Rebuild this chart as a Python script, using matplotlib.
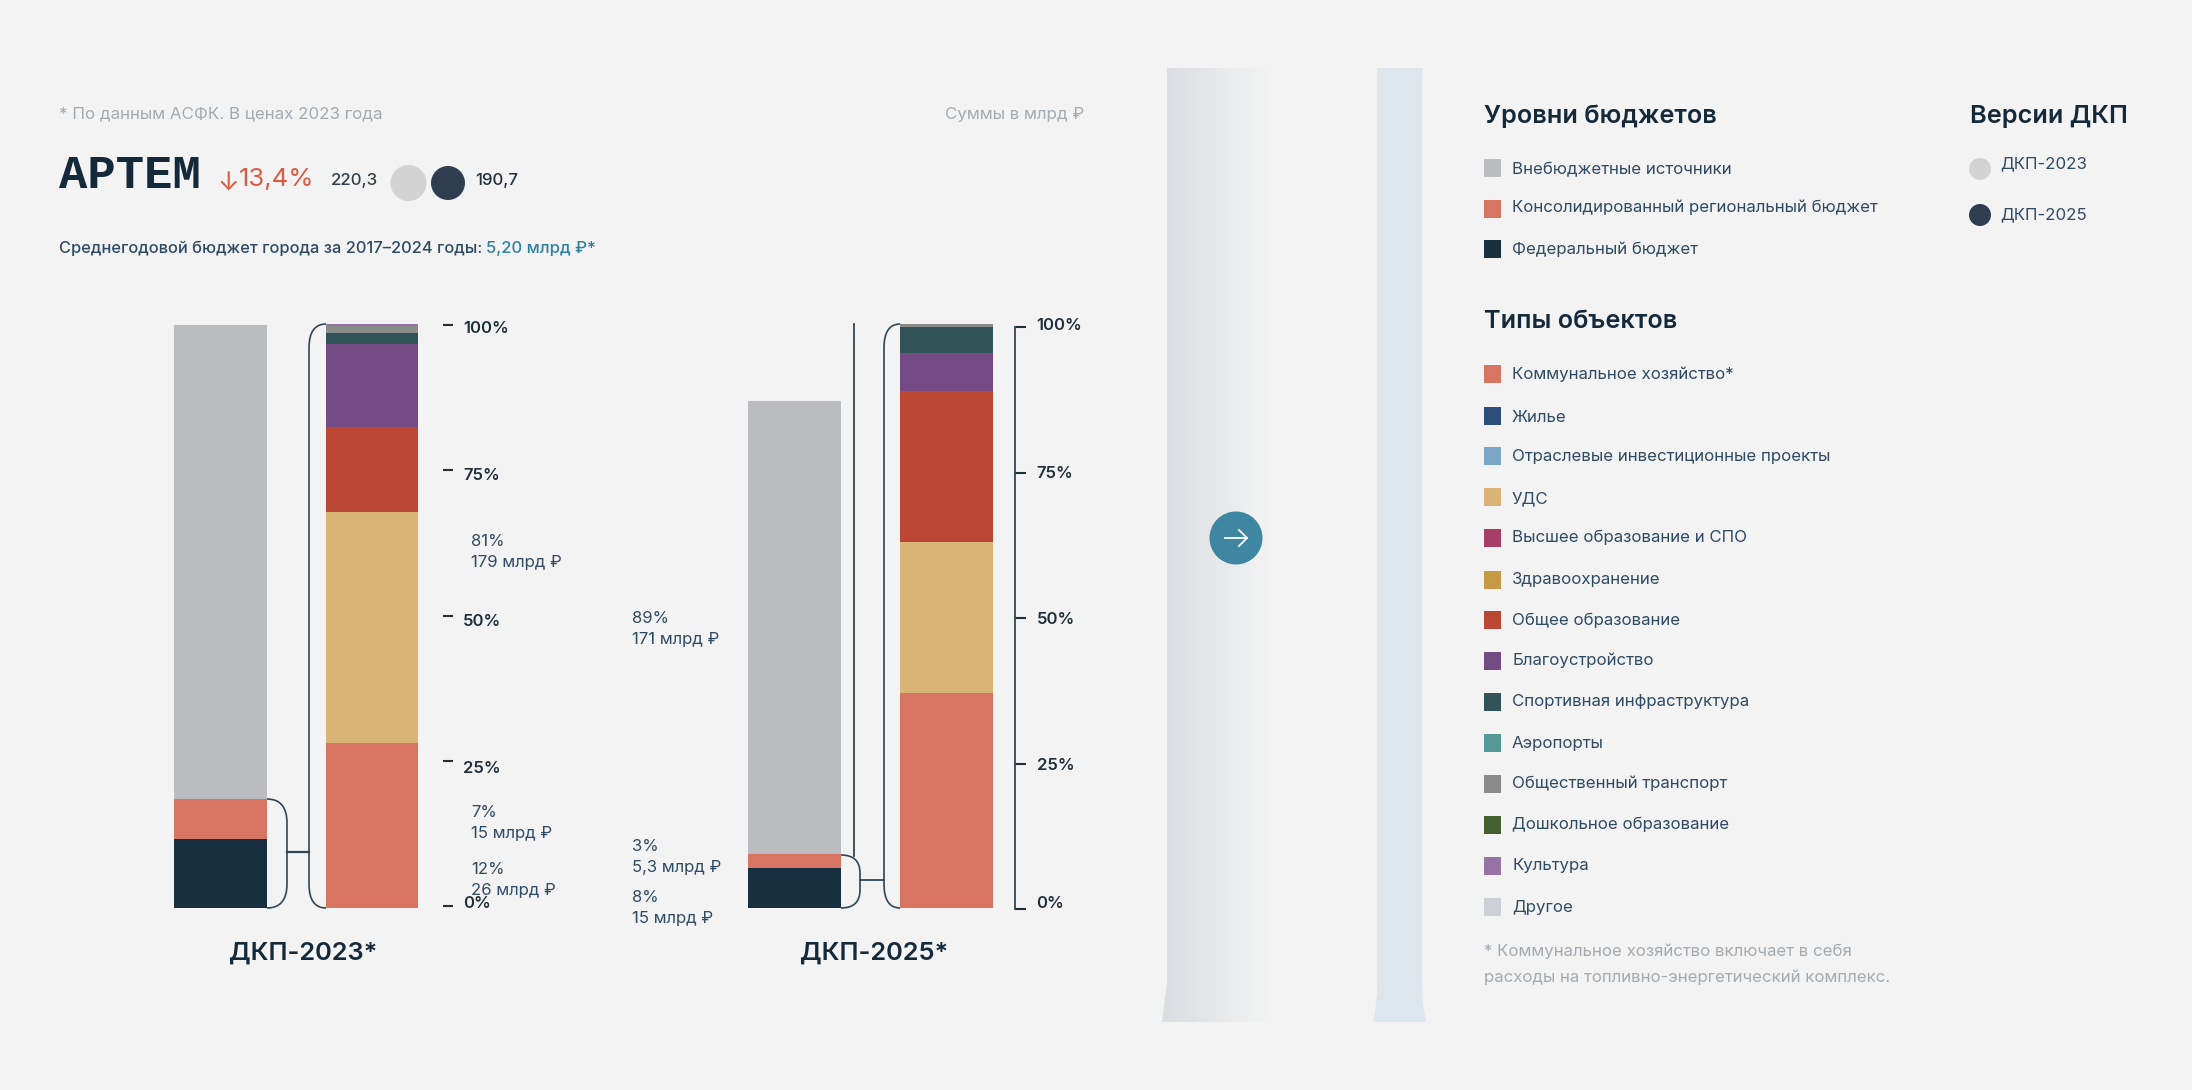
# -*- coding: utf-8 -*-
import numpy as np
import matplotlib
matplotlib.use("Agg")
import matplotlib.pyplot as plt
from matplotlib.path import Path
from matplotlib.patches import PathPatch, Circle, Rectangle
from matplotlib.colors import LinearSegmentedColormap

# budget levels, bottom to top, bln rub
level_names = ["Федеральный бюджет", "Консолидированный региональный бюджет", "Внебюджетные источники"]
level_colors = ["#172F3E", "#D87562", "#BBBCC0"]
levels_2023 = [26, 15, 179]
levels_2025 = [15, 5.3, 171]
share_2023 = [12, 7, 81]
share_2025 = [8, 3, 89]
total_2023 = 220.3
total_2025 = 190.7
avg_budget = "5,20"
change = "13,4%"

# object types, in legend order
type_names = ["Коммунальное хозяйство*", "Жилье", "Отраслевые инвестиционные проекты", "УДС",
              "Высшее образование и СПО", "Здравоохранение", "Общее образование", "Благоустройство",
              "Спортивная инфраструктура", "Аэропорты", "Общественный транспорт",
              "Дошкольное образование", "Культура", "Другое"]
type_colors = ["#D87562", "#2C4E7A", "#7CA6C6", "#DAB377", "#A83E68", "#C49A45", "#BA4633", "#744A85",
               "#325357", "#56979A", "#8A8A8A", "#45602F", "#9672A5", "#CCCFD8"]
types_2023 = [28.25, 0, 0, 39.55, 0, 0, 14.6, 14.2, 1.9, 0, 1.2, 0, 0.3, 0]
types_2025 = [36.9, 0, 0, 25.8, 0, 0, 25.8, 6.6, 4.4, 0, 0.5, 0, 0, 0]
pct_ticks = [0, 25, 50, 75, 100]

W, H = 2192, 1090
BG = "#F3F3F3"
DARK = "#14293A"
TXT = "#2F4A63"
GREY = "#A3ABB1"
BLUE = "#2F7F9F"
LINE = "#2E4757"
FONT = ["Inter", "DejaVu Sans"]
plt.rcParams["font.family"] = FONT

fig = plt.figure(figsize=(W / 100, H / 100), dpi=100, facecolor=BG)


def px_axes(x0, y0, x1, y1, z=2):
    a = fig.add_axes([x0 / W, 1 - y1 / H, (x1 - x0) / W, (y1 - y0) / H], zorder=z)
    a.patch.set_alpha(0)
    return a


# whole figure in pixels, for the non-data stuff
bg = px_axes(0, 0, W, H, z=1)
bg.set_xlim(0, W)
bg.set_ylim(H, 0)
bg.axis("off")


def stack(x0, x1, values, colors, top):
    a = px_axes(x0, 324, x1, 908)
    a.axis("off")
    a.set_xlim(0, 1)
    a.set_ylim(0, top)
    bottom = 0
    for v, c in zip(values, colors):
        if v > 0:
            a.bar(0, v, width=1, bottom=bottom, align="edge", color=c, linewidth=0)
        bottom += v
    return a


stack(174, 267, levels_2023, level_colors, total_2023)
stack(326, 418.5, types_2023, type_colors, 100)
stack(747.5, 841, levels_2025, level_colors, total_2023)
stack(900, 993, types_2025, type_colors, 100)


def scale(x, y0, y1, show_spine, tick_len, pad, nudges):
    a = px_axes(x, y0, x + 1, y1)
    a.set_ylim(0, 100)
    a.set_xticks([])
    for s in ["left", "top", "bottom"]:
        a.spines[s].set_visible(False)
    a.spines["right"].set_visible(show_spine)
    a.spines["right"].set_color(LINE)
    a.spines["right"].set_linewidth(1.3)
    a.yaxis.tick_right()
    a.set_yticks(pct_ticks)
    a.set_yticklabels([])
    a.tick_params(axis="y", length=tick_len * 0.72, width=1.5, color="#1F2F3A", direction="out")
    for t, dy in zip(pct_ticks, nudges):
        a.annotate(f"{t}%", xy=(1, t), xycoords=a.get_yaxis_transform(), xytext=(pad, dy),
                   textcoords="offset pixels", va="center", ha="left", fontsize=12,
                   fontweight="semibold", color="#1F2F3A")


scale(442, 325, 906, False, 10, 20, [3, -7.5, -6, -5, -3.5])
scale(1013.5, 327, 909, True, 11.5, 22, [6, -2, -2, -1, 1])


def bracket(xa, xb, y0, y1, r=24):
    # open rounded bracket from (xa, y0) via xb down to (xa, y1)
    verts = [(xa, y0), (xb, y0), (xb, y0 + r), (xb, y1 - r), (xb, y1), (xa, y1)]
    codes = [Path.MOVETO, Path.CURVE3, Path.CURVE3, Path.LINETO, Path.CURVE3, Path.CURVE3]
    bg.add_patch(PathPatch(Path(verts, codes), fc="none", ec=LINE, lw=1.2, zorder=3))


bracket(326, 309, 324, 908)
bracket(267, 287, 799, 908)
bg.plot([287, 309], [852, 852], color=LINE, lw=1.6)
bracket(900, 884, 324, 908)
bracket(841, 860, 855, 908, r=18)
bg.plot([860, 884], [880, 880], color=LINE, lw=1.3)
bg.plot([854, 854], [324, 856], color=LINE, lw=1.3)

# bands with the arrow
grad = LinearSegmentedColormap.from_list("g", ["#D9DDE1", "#E6E8EA", BG])
im = bg.imshow(np.linspace(0, 1, 256).reshape(1, -1), extent=(1162, 1270, 1022, 68), cmap=grad,
               aspect="auto", zorder=0.5)
band_v = [(1167, 68), (1300, 68), (1300, 1022), (1162, 1022), (1167, 982), (1167, 68)]
bg.set_xlim(0, W)
bg.set_ylim(H, 0)
clip = PathPatch(Path(band_v), transform=bg.transData, fc="none", ec="none")
bg.add_patch(clip)
im.set_clip_path(clip)
verts = [(1377, 68), (1423, 68), (1422, 78), (1422, 980), (1422, 1005), (1426, 1022), (1373, 1022),
         (1377, 1005), (1377.5, 980), (1377.5, 78), (1377, 68)]
codes = [Path.MOVETO, Path.LINETO, Path.LINETO, Path.LINETO, Path.CURVE3, Path.CURVE3, Path.LINETO,
         Path.CURVE3, Path.CURVE3, Path.LINETO, Path.CLOSEPOLY]
bg.add_patch(PathPatch(Path(verts, codes), fc="#DDE5ED", ec="none", zorder=0.6))
bg.add_patch(Circle((1236, 538), 26.5, fc="#3F86A3", ec="none", zorder=1))
bg.plot([1225, 1247], [538, 538], color="white", lw=1.3, zorder=2)
bg.plot([1239, 1247, 1239], [530, 538, 546], color="white", lw=1.3, zorder=2)


def txt(x, y, s, size=12.15, color=TXT, weight="normal", ha="left", family=None):
    return bg.text(x, y + 1.5, s, fontsize=size, color=color, fontweight=weight, ha=ha, va="center",
                   family=family or FONT, zorder=5)


# header
txt(59, 112.5, "* По данным АСФК. В ценах 2023 года", 12.2, GREY)
txt(1084, 112.5, "Суммы в млрд ₽", 12.2, GREY, ha="right")
txt(59, 174, "АРТЕМ", 34, DARK, "bold", family=["Liberation Mono"])
txt(217, 182, "↓", 18.5, "#DB5A42")
txt(239, 178, change, 18.5, "#DB5A42")
txt(331, 179, f"{total_2023:.1f}".replace(".", ","), 12.2, "#333F48", "medium")
txt(475, 179, f"{total_2025:.1f}".replace(".", ","), 12.2, "#1F2F3A", "medium")
bg.add_patch(Circle((408.5, 183), 18, fc="#D3D3D3", ec="none", zorder=2))
bg.add_patch(Circle((448, 183), 17, fc="#2E3D50", ec="none", zorder=2))
txt(59, 246.5, "Среднегодовой бюджет города за 2017–2024 годы:", 11.85, TXT, "medium")
txt(486, 246.5, f"{avg_budget} млрд ₽*", 12, BLUE, "medium")


def rub(v):
    return f"{v:g} млрд ₽".replace(".", ",")


# value notes next to the bars
for x, ys, shares, vals in [(471, [540, 811, 868], share_2023[::-1], levels_2023[::-1]),
                            (632, [617, 845, 896], share_2025[::-1], levels_2025[::-1])]:
    for y, s, v in zip(ys, shares, vals):
        txt(x, y, f"{s}%", 12)
        txt(x, y + 21, rub(v), 12)

txt(303, 952, "ДКП-2023*", 18.3, DARK, "semibold", ha="center")
txt(874.5, 952, "ДКП-2025*", 18.3, DARK, "semibold", ha="center")

# legends
txt(1484, 114.5, "Уровни бюджетов", 18.2, DARK, "semibold")
txt(1970, 114.5, "Версии ДКП", 18.2, DARK, "semibold")
txt(1484, 319.5, "Типы объектов", 18.2, DARK, "semibold")

level_y = [168, 209, 249]
level_ty = [168, 206, 248]
for name, c, y, ty in zip(level_names[::-1], level_colors[::-1], level_y, level_ty):
    bg.add_patch(Rectangle((1484, y - 9), 17, 18, fc=c, ec="none"))
    txt(1512, ty, name)

type_y = [374, 416, 456, 497, 538, 580, 620, 661, 702, 743, 784, 825, 866, 907]
type_ty = [373, 416, 455, 497, 536, 578, 619, 659, 700, 742, 782, 823, 864, 906]
for name, c, y, ty in zip(type_names, type_colors, type_y, type_ty):
    bg.add_patch(Rectangle((1484, y - 9), 17, 18, fc=c, ec="none"))
    txt(1512, ty, name)

bg.add_patch(Circle((1980, 169), 11, fc="#D3D3D3", ec="none"))
bg.add_patch(Circle((1980, 215), 11, fc="#2E3D50", ec="none"))
txt(2000, 162, "ДКП-2023")
txt(2000, 213, "ДКП-2025")
txt(1484, 950, "* Коммунальное хозяйство включает в себя", 12.1, GREY)
txt(1484, 976, "расходы на топливно-энергетический комплекс.", 12.1, GREY)

fig.savefig("out.png", dpi=100, facecolor=BG)
